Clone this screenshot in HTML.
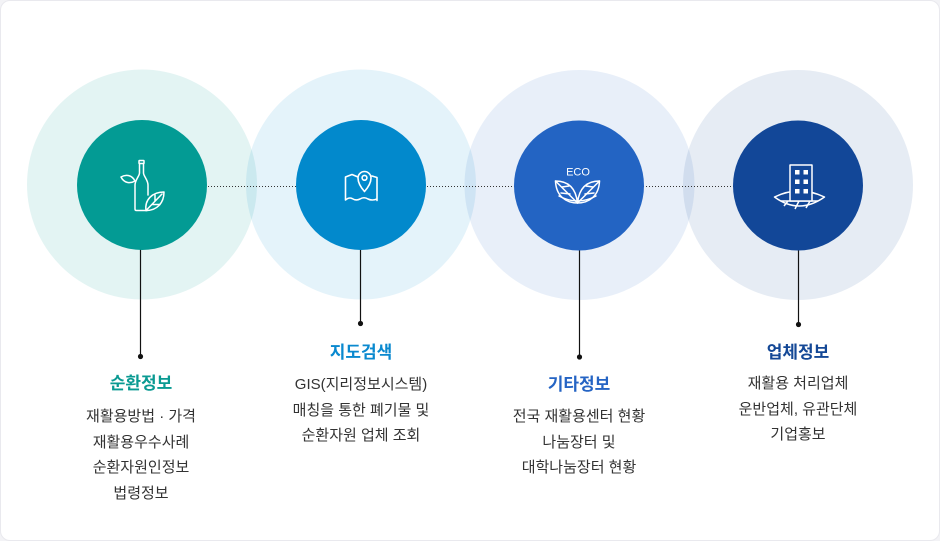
<!DOCTYPE html>
<html>
<head>
<meta charset="utf-8">
<style>
  html,body{margin:0;padding:0;}
  body{width:940px;height:541px;background:#f3f3f6;overflow:hidden;position:relative;
       font-family:"Liberation Sans","Noto Sans CJK KR",sans-serif;}
  .frame{position:absolute;left:0;top:0;width:938px;height:539px;background:#fff;
         border:1px solid #e9e9ee;border-radius:10px;}
  svg{position:absolute;left:0;top:0;}
  .t{position:absolute;width:240px;text-align:center;font-weight:bold;font-size:17px;
     line-height:20px;letter-spacing:0;}
  .b{position:absolute;width:240px;text-align:center;font-size:15px;line-height:25.5px;
     color:#333;letter-spacing:0;}
</style>
</head>
<body>
<div class="frame"></div>
<svg width="940" height="541" viewBox="0 0 940 541" xmlns="http://www.w3.org/2000/svg">
  <!-- outer halos -->
  <circle cx="142" cy="184.5" r="115" fill="rgb(0,154,147)" fill-opacity="0.11"/>
  <circle cx="361" cy="184.5" r="115" fill="rgb(2,137,204)" fill-opacity="0.105"/>
  <circle cx="579.5" cy="185" r="115" fill="rgb(35,100,195)" fill-opacity="0.105"/>
  <circle cx="798" cy="185" r="115" fill="rgb(18,71,152)" fill-opacity="0.105"/>

  <!-- dotted connector -->
  <line x1="205" y1="186.5" x2="735" y2="186.5" stroke="#333" stroke-width="1" stroke-dasharray="1 2"/>

  <!-- vertical connectors -->
  <line x1="140.5" y1="248" x2="140.5" y2="356" stroke="#111" stroke-width="1.2"/>
  <circle cx="140.5" cy="356.5" r="2.6" fill="#111"/>
  <line x1="360.5" y1="248" x2="360.5" y2="323" stroke="#111" stroke-width="1.2"/>
  <circle cx="360.5" cy="323.5" r="2.6" fill="#111"/>
  <line x1="579.5" y1="248" x2="579.5" y2="357" stroke="#111" stroke-width="1.2"/>
  <circle cx="579.5" cy="357" r="2.6" fill="#111"/>
  <line x1="798.5" y1="248" x2="798.5" y2="324" stroke="#111" stroke-width="1.2"/>
  <circle cx="798.5" cy="324.5" r="2.6" fill="#111"/>

  <!-- inner circles -->
  <circle cx="142" cy="185" r="65" fill="#039b94"/>
  <circle cx="361" cy="185" r="65" fill="#0289cc"/>
  <circle cx="579" cy="185.5" r="65" fill="#2364c3"/>
  <circle cx="798" cy="185.5" r="65" fill="#124798"/>

  <!-- icon 1: bottle + leaves -->
  <g fill="none" stroke="#fff" stroke-width="1.5" stroke-linejoin="round" stroke-linecap="round">
    <rect x="139" y="160.5" width="5" height="3" rx="0.5"/>
    <path d="M139.5,163.5 L139.5,173 C139.5,176 135,180 135,185 L135,209 Q135,210.5 136.5,210.5 L147,210.5"/>
    <path d="M143.5,163.5 L143.5,173 C143.5,176 148,180 148,185 L148,195"/>
    <path d="M135,181 C132,175 126,174 121,177 C124,183 130,184 135,181 Z"/>
    <path d="M146,210.5 C144.5,200 152,192 164,192 C164,203 157,210.5 146,210.5 Z" fill="#039b94"/>
    <path d="M146,210.5 L162,194 M152,204.5 L160,204.5 M155,201 L155,195"/>
  </g>

  <!-- icon 2: map + pin -->
  <g fill="none" stroke="#fff" stroke-width="1.6" stroke-linejoin="round" stroke-linecap="round">
    <path d="M358,177 L352,174.5 L345.5,177 L345.5,200 Q349,197 352,198.5 Q356,201 360,199 Q364,196.5 368,199 Q372,201 377,199 L377,200.5 L377,177.5 L372,176"/>
    <path d="M364.5,191.5 C360.5,187 358,183 358,178 A6.5,6.5 0 1 1 371,178 C371,183 368.5,187 364.5,191.5 Z" fill="#0289cc"/>
    <circle cx="364.5" cy="177.8" r="2.4"/>
  </g>

  <!-- icon 3: ECO leaves -->
  <text x="578" y="175.3" text-anchor="middle" font-family="Liberation Sans, sans-serif" font-size="11" fill="#fff">ECO</text>
  <g fill="none" stroke="#fff" stroke-width="1.5" stroke-linejoin="round" stroke-linecap="round">
    <path d="M577.5,203 C566,203 556,196 555.5,181 C569,181 576,189 577.5,203 Z"/>
    <path d="M577.5,203 C589,203 599,196 599.5,181 C586,181 579,189 577.5,203 Z"/>
    <path d="M555.5,181 L577.5,203 L599.5,181"/>
    <path d="M562,187 L569,186 M561,193 L570,194 M593,187 L586,186 M594,193 L585,194"/>
    <path d="M559,196 Q577.5,206 596,196"/>
  </g>

  <!-- icon 4: building -->
  <g fill="none" stroke="#fff" stroke-width="1.5" stroke-linejoin="round">
    <path d="M774.5,197 Q799,185 824.5,197 Q799,215 774.5,197 Z"/>
    <path d="M781,201 L818,201 M788,201 L784,206 M799,201 L795,209 M810,201 L806,208"/>
    <rect x="790" y="165" width="22" height="36" fill="#124798"/>
  </g>
  <g fill="#fff">
    <rect x="795" y="170" width="4.5" height="4.5"/><rect x="803.5" y="170" width="4.5" height="4.5"/>
    <rect x="795" y="179.5" width="4.5" height="4.5"/><rect x="803.5" y="179.5" width="4.5" height="4.5"/>
    <rect x="795" y="189" width="4.5" height="4.5"/><rect x="803.5" y="189" width="4.5" height="4.5"/>
  </g>
</svg>

<!-- labels -->
<div class="t" style="left:21px;top:374px;color:#0a9a92;">순환정보</div>
<div class="b" style="left:21px;top:404px;">재활용방법 · 가격<br>재활용우수사례<br>순환자원인정보<br>법령정보</div>

<div class="t" style="left:241px;top:343px;color:#0a89cf;">지도검색</div>
<div class="b" style="left:241px;top:372px;">GIS(지리정보시스템)<br>매칭을 통한 폐기물 및<br>순환자원 업체 조회</div>

<div class="t" style="left:459px;top:375px;color:#2564c4;">기타정보</div>
<div class="b" style="left:459px;top:404px;">전국 재활용센터 현황<br>나눔장터 및<br>대학나눔장터 현황</div>

<div class="t" style="left:678px;top:343px;color:#144896;">업체정보</div>
<div class="b" style="left:678px;top:371px;">재활용 처리업체<br>운반업체, 유관단체<br>기업홍보</div>
</body>
</html>
